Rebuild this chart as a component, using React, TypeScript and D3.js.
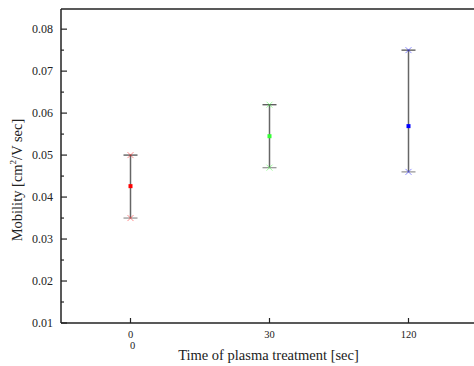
import * as d3 from "d3";
import React from "react";

// treatment times (categories) and mobility values
const categories = ["0", "30", "120"];
const means = [0.0426, 0.0545, 0.0569];
const uppers = [0.05, 0.062, 0.075];
const lowers = [0.035, 0.047, 0.046];
const colors = ["#ff0000", "#33ff33", "#0000ff"];
const yTicks = [0.01, 0.02, 0.03, 0.04, 0.05, 0.06, 0.07, 0.08];
const yMinorTicks = [0.015, 0.025, 0.035, 0.045, 0.055, 0.065, 0.075];

const width = 474;
const height = 366;
const margin = { top: 9, right: -4, bottom: 43, left: 61 };

const App: React.FC = () => {
  const x = d3
    .scalePoint<string>()
    .domain(categories)
    .range([margin.left, width - margin.right])
    .padding(0.5);

  const y = d3
    .scaleLinear()
    .domain([0.01, 0.0848])
    .range([height - margin.bottom, margin.top]);

  const font = "'Liberation Serif', 'Times New Roman', serif";
  const x0 = margin.left;
  const yBottom = y(0.01);
  const capW = 7;
  const mk = 3;

  return (
    <svg
      width={width}
      height={height}
      style={{ position: "absolute", left: 0, top: 0, background: "#fff" }}
      fontFamily={font}
    >
      {/* frame */}
      <line x1={x0} x2={width} y1={margin.top} y2={margin.top} stroke="#222" strokeWidth={1.5} />
      <line x1={x0} x2={x0} y1={margin.top} y2={yBottom} stroke="#222" strokeWidth={1.5} />
      <line x1={x0} x2={width} y1={yBottom} y2={yBottom} stroke="#222" strokeWidth={1.5} />

      {/* y ticks */}
      {yTicks.map((t) => (
        <g key={t}>
          <line x1={x0} x2={x0 + 6} y1={y(t)} y2={y(t)} stroke="#222" strokeWidth={1.2} />
          <text x={x0 - 8} y={y(t)} dy="0.35em" textAnchor="end" fontSize={12} fill="#222">
            {t.toFixed(2)}
          </text>
        </g>
      ))}
      {yMinorTicks.map((t) => (
        <line key={t} x1={x0} x2={x0 + 3} y1={y(t)} y2={y(t)} stroke="#222" strokeWidth={1.2} />
      ))}

      {/* x ticks */}
      {categories.map((c) => (
        <g key={c}>
          <line x1={x(c)!} x2={x(c)!} y1={yBottom} y2={yBottom - 5} stroke="#222" strokeWidth={1.2} />
          <text x={x(c)!} y={yBottom + 15} textAnchor="middle" fontSize={10.5} fill="#222">
            {c}
          </text>
        </g>
      ))}
      <text x={x("0")! + 2} y={yBottom + 26} textAnchor="middle" fontSize={10.5} fill="#222">
        0
      </text>

      {/* error bars */}
      {categories.map((c, i) => {
        const cx = x(c)!;
        return (
          <g key={c}>
            <line x1={cx} x2={cx} y1={y(uppers[i])} y2={y(lowers[i])} stroke="#666" strokeWidth={1.5} />
            {[uppers[i], lowers[i]].map((v, j) => (
              <g key={j}>
                <line
                  x1={cx - capW}
                  x2={cx + capW}
                  y1={y(v)}
                  y2={y(v)}
                  stroke={j === 0 ? "#555" : "#999"}
                  strokeWidth={1.3}
                />
                <path
                  d={`M${cx - mk},${y(v) - mk}L${cx + mk},${y(v) + mk}M${cx - mk},${y(v) + mk}L${cx + mk},${y(v) - mk}`}
                  stroke={colors[i]}
                  strokeOpacity={0.45}
                  strokeWidth={1}
                />
              </g>
            ))}
            <rect x={cx - 2} y={y(means[i]) - 2} width={4} height={4} fill={colors[i]} />
          </g>
        );
      })}

      {/* axis titles */}
      <text
        x={(margin.left + width) / 2 + 1}
        y={yBottom + 37}
        textAnchor="middle"
        fontSize={14.5}
        fill="#222"
      >
        Time of plasma treatment [sec]
      </text>
      <text
        transform={`translate(22,${(margin.top + yBottom) / 2 + 14}) rotate(-90)`}
        textAnchor="middle"
        fontSize={14.5}
        fill="#222"
      >
        Mobility [cm
        <tspan fontSize={9} dy={-6}>
          2
        </tspan>
        <tspan dy={6}>/V sec]</tspan>
      </text>
    </svg>
  );
};

export default App;
